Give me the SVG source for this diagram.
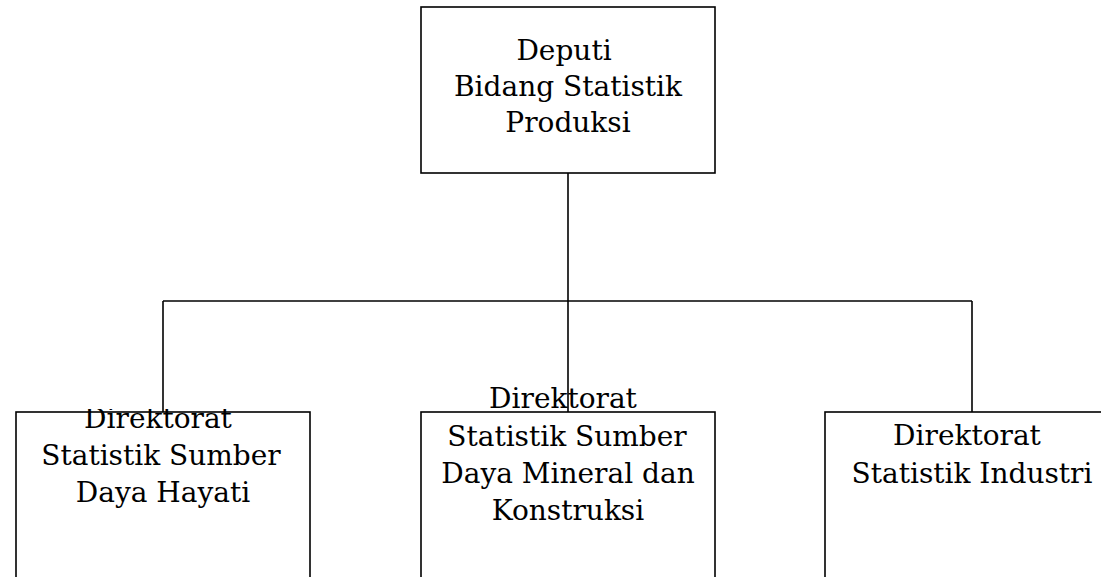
<svg xmlns="http://www.w3.org/2000/svg" width="1101" height="577" viewBox="0 0 1101 577">
<style>
.box{fill:#fff;stroke:#000;stroke-width:1.6}
.ln{fill:none;stroke:#000;stroke-width:1.6}
text{font-family:"DejaVu Serif","Liberation Serif",serif;font-size:28px;fill:#000;text-anchor:middle}
</style>
<defs>
<clipPath id="clipL"><rect x="0" y="409" width="330" height="200"/></clipPath>
</defs>
<rect width="1101" height="577" fill="#fff"/>
<g id="connectors">
<path class="ln" d="M568 173 V412"/>
<path class="ln" d="M163 301 H972"/>
<path class="ln" d="M163 301 V412"/>
<path class="ln" d="M972 301 V412"/>
</g>
<g id="deputi">
<rect class="box" x="421" y="7" width="294" height="166"/>
<text x="564" y="60">Deputi</text>
<text x="568" y="96">Bidang Statistik</text>
<text x="568" y="132">Produksi</text>
</g>
<g id="dir-hayati">
<rect class="box" x="16" y="412" width="294" height="180"/>
<text x="158" y="428" clip-path="url(#clipL)">Direktorat</text>
<text x="161" y="465">Statistik Sumber</text>
<text x="163" y="502">Daya Hayati</text>
</g>
<g id="dir-mineral">
<rect class="box" x="421" y="412" width="294" height="180"/>
<text x="563" y="408">Direktorat</text>
<text x="567" y="446">Statistik Sumber</text>
<text x="568" y="483">Daya Mineral dan</text>
<text x="568" y="520">Konstruksi</text>
</g>
<g id="dir-industri">
<rect class="box" x="825" y="412" width="300" height="180"/>
<text x="967" y="445">Direktorat</text>
<text x="972" y="483">Statistik Industri</text>
</g>
</svg>
